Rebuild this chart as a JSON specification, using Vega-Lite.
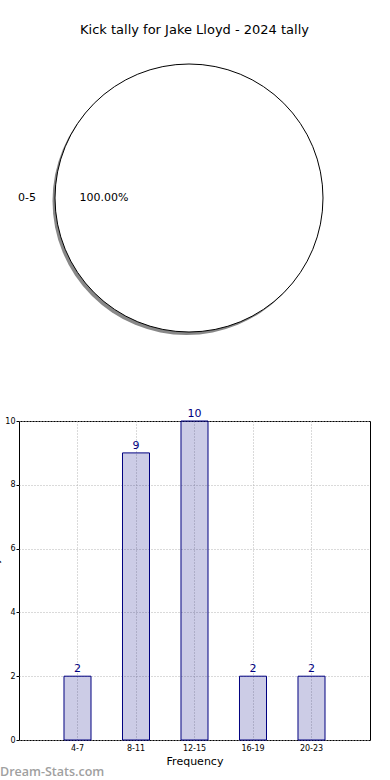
{
  "$schema": "https://vega.github.io/schema/vega-lite/v6.json",
  "autosize": "none",
  "padding": {"left": 19, "top": 50, "right": 371, "bottom": 730},
  "background": "white",
  "title": {"text": "Kick tally for Jake Lloyd - 2024 tally", "fontSize": 13, "fontWeight": "normal", "color": "black", "font": "DejaVu Sans", "frame": "group", "anchor": "middle", "dx": 175.5, "offset": 13},
  "spacing": 75,
  "bounds": "flush",
  "config": {"font": "DejaVu Sans", "view": {"stroke": null}},
  "vconcat": [
    {
      "width": 340,
      "height": 296,
      "data": {"values": [{"range": "0-5", "count": 25, "pct": "100.00%"}]},
      "encoding": {"theta": {"field": "count", "type": "quantitative", "stack": true, "scale": {"range": [1.5708, 7.854]}}},
      "layer": [
        {"mark": {"type": "arc", "radius": 134, "fill": "#888888", "xOffset": -2.5, "yOffset": 3}},
        {"mark": {"type": "arc", "radius": 134, "fill": "white", "stroke": "black", "strokeWidth": 1}},
        {"mark": {"type": "text", "radius": 85, "fontSize": 11, "color": "black"}, "encoding": {"text": {"field": "pct"}}},
        {"mark": {"type": "text", "radius": 162, "fontSize": 11, "color": "black"}, "encoding": {"text": {"field": "range"}}}
      ]
    },
    {
      "width": 351,
      "height": 319,
      "view": {"stroke": "black", "strokeWidth": 1},
      "title": {"text": "Dream-Stats.com", "orient": "bottom", "anchor": "start", "frame": "group", "dx": -19, "offset": 0, "font": "Open Sans", "fontSize": 12.5, "fontWeight": 600, "color": "#a0a0a0"},
      "data": {"values": [
        {"range": "4-7", "count": 2},
        {"range": "8-11", "count": 9},
        {"range": "12-15", "count": 10},
        {"range": "16-19", "count": 2},
        {"range": "20-23", "count": 2}
      ]},
      "encoding": {
        "x": {"field": "range", "type": "nominal", "sort": null, "scale": {"paddingInner": 0.538, "paddingOuter": 0.769},
          "axis": {"title": "Frequency", "titleFontSize": 11, "titleFontWeight": "normal", "titleColor": "black", "titlePadding": 3, "labelFontSize": 8, "labelColor": "black", "labelAngle": 0, "labelPadding": 4, "ticks": false, "domain": false, "grid": true, "gridColor": "#b4b4b4", "gridDash": [1, 2], "bandPosition": 0.5}},
        "y": {"field": "count", "type": "quantitative", "scale": {"domain": [0, 10], "nice": false},
          "axis": {"title": "Games Played", "values": [0, 2, 4, 6, 8, 10], "titleX": -21, "titleY": 159.5, "titleBaseline": "alphabetic", "titleFontSize": 10, "titleFontWeight": "normal", "titleColor": "black", "labelFontSize": 8, "labelColor": "black", "tickSize": 3, "tickColor": "black", "labelPadding": 1, "domain": false, "grid": true, "gridColor": "#b4b4b4", "gridDash": [1, 2]}}
      },
      "layer": [
        {"mark": {"type": "bar", "fill": "#000080", "fillOpacity": 0.2, "stroke": "#000080", "strokeWidth": 1}},
        {"mark": {"type": "text", "baseline": "alphabetic", "dy": -4, "color": "#000080", "fontSize": 11}, "encoding": {"text": {"field": "count"}}}
      ]
    }
  ]
}
